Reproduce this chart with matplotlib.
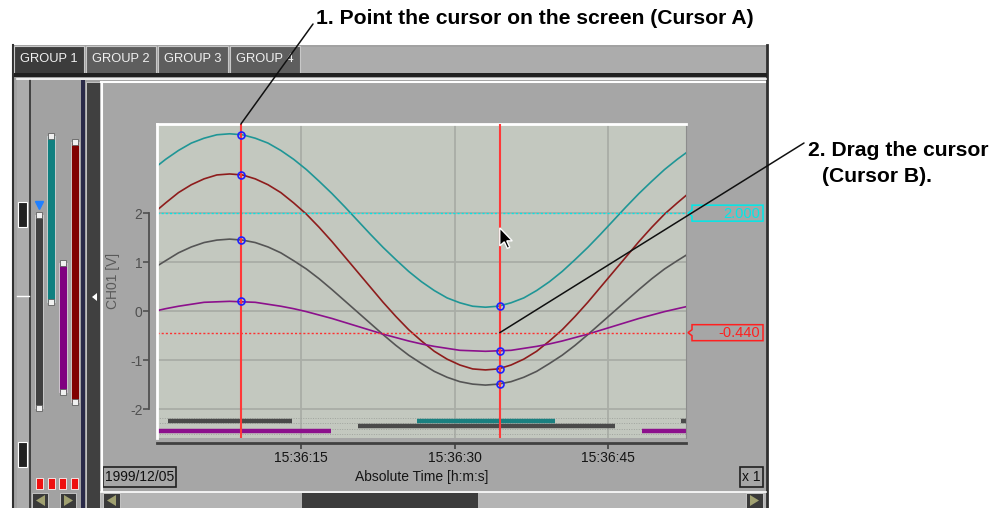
import matplotlib
matplotlib.use('Agg')
import matplotlib.pyplot as plt
from matplotlib.patches import Rectangle, Polygon, ConnectionPatch

plt.rcParams['font.family'] = ['Liberation Sans', 'DejaVu Sans']

# trend samples, seconds after 15:36:00
t = [0.9, 1.75, 3.0, 4.25, 5.5, 6.75, 8.0, 9.25, 10.5, 11.75, 13.0,
     14.25, 15.5, 16.75, 18.0, 19.25, 20.5, 21.75, 23.0, 24.25, 25.5,
     26.75, 28.0, 29.25, 30.5, 31.75, 33.0, 34.25, 35.5, 36.75, 38.0,
     39.25, 40.5, 41.75, 43.0, 44.25, 45.5, 46.75, 48.0, 49.25, 50.5,
     51.75, 52.6]
ch_teal = [2.96, 3.10, 3.28, 3.43, 3.53, 3.60, 3.62, 3.60, 3.53, 3.43, 3.28,
           3.10, 2.89, 2.65, 2.40, 2.13, 1.85, 1.57, 1.30, 1.05, 0.81,
           0.60, 0.42, 0.27, 0.17, 0.10, 0.08, 0.10, 0.17, 0.27, 0.42,
           0.60, 0.81, 1.05, 1.30, 1.57, 1.85, 2.13, 2.40, 2.65, 2.89,
           3.10, 3.23]
ch_red = [2.06, 2.21, 2.42, 2.58, 2.70, 2.78, 2.80, 2.78, 2.70, 2.58, 2.42,
          2.21, 1.98, 1.71, 1.42, 1.11, 0.80, 0.49, 0.18, -0.11, -0.38,
          -0.61, -0.82, -0.98, -1.10, -1.18, -1.20, -1.18, -1.10, -0.98, -0.82,
          -0.61, -0.38, -0.11, 0.18, 0.49, 0.80, 1.11, 1.42, 1.71, 1.98,
          2.21, 2.36]
ch_gray = [0.92, 1.03, 1.19, 1.31, 1.40, 1.45, 1.47, 1.45, 1.40, 1.31, 1.19,
           1.03, 0.86, 0.66, 0.44, 0.21, -0.02, -0.25, -0.48, -0.70, -0.90,
           -1.07, -1.23, -1.35, -1.44, -1.49, -1.51, -1.49, -1.44, -1.35, -1.23,
           -1.07, -0.90, -0.70, -0.48, -0.25, -0.02, 0.21, 0.44, 0.66, 0.86,
           1.03, 1.14]
ch_purple = [0.01, 0.05, 0.10, 0.14, 0.18, 0.19, 0.20, 0.19, 0.18, 0.14, 0.10,
             0.05, -0.01, -0.08, -0.15, -0.23, -0.31, -0.39, -0.47, -0.54, -0.61,
             -0.67, -0.72, -0.76, -0.80, -0.81, -0.82, -0.81, -0.80, -0.76, -0.72,
             -0.67, -0.61, -0.54, -0.47, -0.39, -0.31, -0.23, -0.15, -0.08, -0.01,
             0.05, 0.09]
channel_colors = ['#1f9696', '#8e1c1c', '#555555', '#8c108c']

cursor_a = 9.1
cursor_b = 34.4
cursor_a_vals = [3.60, 2.78, 1.46, 0.20]
cursor_b_vals = [0.11, -1.19, -1.49, -0.81]
cursor_b_level = -0.44
alarm_level = 2.0

# alarm strips under the trend (start, end, level, colour)
strip_start = [2.0, 0.9, 20.5, 26.3, 52.1, 48.3]
strip_end = [14.1, 17.9, 45.7, 39.8, 52.6, 52.6]
strip_level = [-2.24, -2.45, -2.34, -2.24, -2.24, -2.45]
strip_color = ['#4a4a4a', '#8c108c', '#4a4a4a', '#1a8080', '#4a4a4a', '#8c108c']

time_ticks = [15, 30, 45]
time_labels = ['15:36:15', '15:36:30', '15:36:45']
volt_ticks = [-2, -1, 0, 1, 2]

# left bar graph (percent of span)
bar_low = [0.7, 38.6, 6.4, 3.0]
bar_high = [69.6, 97.9, 52.5, 95.7]
bar_colors = ['#404040', '#108080', '#800080', '#800000']

tabs = ['GROUP 1', 'GROUP 2', 'GROUP 3', 'GROUP 4']

fig = plt.figure(figsize=(10, 5.08), dpi=100)
fig.patch.set_facecolor('white')

bg = fig.add_axes([0, 0, 1, 1])
bg.set_xlim(0, 1000)
bg.set_ylim(508, 0)
bg.axis('off')


def box(a, x0, y0, x1, y1, fc, ec='none', lw=1, z=1):
    a.add_patch(Rectangle((x0, y0), x1 - x0, y1 - y0, facecolor=fc,
                          edgecolor=ec, linewidth=lw, zorder=z))


# window frame and tabs
box(bg, 12, 45, 768, 508, '#a2a2a2')
box(bg, 300, 47, 768, 73, '#acacac')
bg.plot([12.5, 12.5], [45, 508], color='#303030', lw=1.5)
for i, name in enumerate(tabs):
    x0 = 14 + i * 72
    fc = '#3c3c3c' if i == 0 else '#5e5e5e'
    box(bg, x0, 46, x0 + 70, 74, fc, ec='#c8c8c8', lw=0.8, z=2)
    bg.text(x0 + 35, 59, name, ha='center', va='center', color='#f0f0f0',
            fontsize=9.3, zorder=3)
box(bg, 14, 73, 767, 77, '#202020', z=3)
bg.plot([17, 766], [78.5, 78.5], color='white', lw=1.2, zorder=3)

# left panel
box(bg, 17, 80, 29, 508, '#acacac')
bg.plot([30, 30], [80, 508], color='#303030', lw=1.2)
box(bg, 81, 80, 85, 508, '#2a2a48')
box(bg, 86, 82, 100, 508, '#404040', ec='#d0d0d0', lw=0.6)
bg.add_patch(Polygon([[97, 293], [97, 301], [92, 297]], closed=True,
                     facecolor='white', edgecolor='none'))
box(bg, 18, 202, 27, 227, '#202020', ec='white', lw=0.8)
box(bg, 18, 442, 27, 467, '#202020', ec='white', lw=0.8)
bg.plot([17, 29], [296, 296], color='white', lw=1)
for k in range(4):
    box(bg, 36 + k * 11.5, 478, 43 + k * 11.5, 489, '#ee1010', ec='#f8f8f8', lw=0.6)
for x0 in (32, 60):
    box(bg, x0, 493, x0 + 16, 508, '#3a3a3a', ec='#d0d0d0', lw=0.6)
bg.add_patch(Polygon([[45, 495], [45, 506], [36, 500.5]], closed=True,
                     facecolor='#a0a070', edgecolor='none', zorder=3))
bg.add_patch(Polygon([[64, 495], [64, 506], [73, 500.5]], closed=True,
                     facecolor='#a0a070', edgecolor='none', zorder=3))

bars = fig.add_axes([33 / 1000, (508 - 410) / 508, 48 / 1000, 280 / 508])
bars.set_xlim(0, 4)
bars.set_ylim(0, 100)
bars.axis('off')
for k in range(4):
    bars.bar(k + 0.5, bar_high[k] - bar_low[k], bottom=bar_low[k], width=0.7,
             color=bar_colors[k], edgecolor='#d8d8d8', linewidth=0.6)
    bars.plot([k + 0.5] * 2, [bar_low[k], bar_high[k]], ls='none', marker='s',
              ms=5, mfc='#f0f0f0', mec='#606060', mew=0.6, clip_on=False)
bars.plot([0.5], [bar_high[0] + 3.5], marker='v', ms=6, color='#2080ff',
          ls='none', clip_on=False)

# chart panel
box(bg, 101, 82, 766, 491, '#a6a6a6')
bg.plot([101, 766], [82, 82], color='white', lw=1.5)
bg.plot([101.5, 101.5], [82, 491], color='white', lw=1.5)
bg.plot([766.5, 766.5], [45, 508], color='#303030', lw=2)
box(bg, 103, 467, 176, 487, 'none', ec='#202020', lw=1.2)
bg.text(139.5, 477, '1999/12/05', ha='center', va='center', fontsize=10, color='#101010')
box(bg, 740, 467, 763, 487, 'none', ec='#202020', lw=1.2)
bg.text(751.5, 477, 'x 1', ha='center', va='center', fontsize=10, color='#101010')

# scroll bar
box(bg, 101, 492, 766, 508, '#b4b4b4')
bg.plot([101, 766], [492, 492], color='white', lw=1.2)
box(bg, 302, 493, 478, 508, '#3c3c3c')
for x0, pts in ((103, [[116, 495], [116, 506], [107, 500.5]]),
                (746, [[750, 495], [750, 506], [759, 500.5]])):
    box(bg, x0, 493, x0 + 17, 508, '#3a3a3a', ec='#d0d0d0', lw=0.6)
    bg.add_patch(Polygon(pts, closed=True, facecolor='#a0a070',
                         edgecolor='none', zorder=3))

# trend axes
ax = fig.add_axes([157 / 1000, (508 - 438) / 508, 529 / 1000, 314 / 508])
ax.set_facecolor('#c3c8bf')
ax.set_xlim(0.9, 52.6)
ax.set_ylim(-2.59, 3.82)

for v in volt_ticks:
    ax.axhline(v, color='#a9ada6', lw=1.3, zorder=1)
for x in time_ticks:
    ax.axvline(x, color='#a9ada6', lw=1.3, zorder=1)
for v in (-2.18, -2.29, -2.40, -2.51):
    ax.axhline(v, color='#a0a49e', lw=0.7, ls=(0, (1, 1.5)), zorder=1)

for lo, hi, lv, c in zip(strip_start, strip_end, strip_level, strip_color):
    ax.hlines(lv, lo, hi, color=c, lw=3.2, zorder=2)

series = [ch_teal, ch_red, ch_gray, ch_purple]
for ys, c in zip(series, channel_colors):
    ax.plot(t, ys, color=c, lw=1.2, zorder=3)

ax.axhline(alarm_level, color='#00e8e8', lw=1, ls=(0, (1.5, 1.5)), zorder=4)
ax.axhline(cursor_b_level, color='#ff3030', lw=1, ls=(0, (1.5, 1.5)), zorder=4)
ax.axvline(cursor_a, color='#ff3838', lw=1.5, zorder=5)
ax.axvline(cursor_b, color='#ff3838', lw=1.5, zorder=5)
ax.plot([cursor_a] * 4, cursor_a_vals, ls='none', marker='o', ms=5,
        mfc='none', mec='#2020ff', mew=1.2, zorder=6)
ax.plot([cursor_b] * 4, cursor_b_vals, ls='none', marker='o', ms=5,
        mfc='none', mec='#2020ff', mew=1.2, zorder=6)

ax.spines['top'].set_color('white')
ax.spines['top'].set_linewidth(2)
ax.spines['right'].set_color('#8c8c8c')
ax.plot([0, 0], [0, 1], transform=ax.transAxes, color='white', lw=2, clip_on=False, zorder=7)
ax.spines['left'].set_position(('outward', 5.5))
ax.spines['left'].set_bounds(-2, 2)
ax.spines['left'].set_color('#505050')
ax.spines['left'].set_linewidth(1.3)
ax.spines['bottom'].set_position(('outward', 3.6))
ax.spines['bottom'].set_color('#404040')
ax.spines['bottom'].set_linewidth(2)
ax.set_yticks(volt_ticks)
ax.set_yticklabels([str(v) for v in volt_ticks])
ax.set_xticks(time_ticks)
ax.set_xticklabels(time_labels)
ax.tick_params(axis='y', length=4, width=1.2, color='#505050', labelcolor='#505050',
               labelsize=10, pad=1)
ax.tick_params(axis='x', length=4, width=1.2, color='#404040', labelcolor='#151515',
               labelsize=10, pad=2)
ax.set_ylabel('CH01 [V]', fontsize=10, color='#5a5a5a', labelpad=7)
ax.set_xlabel('Absolute Time [h:m:s]', fontsize=10, color='#151515', labelpad=3)

# overlay: value boxes, pointer, call-outs
top = fig.add_axes([0, 0, 1, 1], zorder=10)
top.set_xlim(0, 1000)
top.set_ylim(508, 0)
top.axis('off')


def to_px(x, y):
    return top.transData.inverted().transform(ax.transData.transform((x, y)))


for lv, txt, c in ((alarm_level, '2.000', '#00e8e8'),
                   (cursor_b_level, '-0.440', '#ff2020')):
    yy = to_px(0, lv)[1]
    top.add_patch(Polygon([[692, yy - 8], [763, yy - 8], [763, yy + 8], [692, yy + 8],
                           [692, yy + 3], [688, yy], [692, yy - 3]], closed=True,
                          facecolor='#a6a6a6', edgecolor=c, lw=1.1))
    top.text(760, yy + 0.5, txt, ha='right', va='center', color=c, fontsize=10.5)

px, py = to_px(cursor_b, 1.7)
arrow = [[0, 0], [0, 18], [4.5, 14], [7.5, 20.5], [10, 19.5], [7, 13], [12.5, 13]]
top.add_patch(Polygon([[px + dx, py + dy] for dx, dy in arrow], closed=True,
                      facecolor='black', edgecolor='white', lw=1))

top.text(316, 19, '1. Point the cursor on the screen (Cursor A)', ha='left',
         va='center', fontsize=15.2, fontweight='bold', color='black')
top.text(808, 151, '2. Drag the cursor', ha='left', va='center',
         fontsize=15.2, fontweight='bold', color='black')
top.text(822, 177, '(Cursor B).', ha='left', va='center',
         fontsize=15.2, fontweight='bold', color='black')

for xy_txt, xy_pt in (((313, 24), (cursor_a, 3.82)),
                      ((804, 143), (cursor_b, cursor_b_level))):
    fig.add_artist(ConnectionPatch(xyA=xy_txt, coordsA=top.transData,
                                   xyB=xy_pt, coordsB=ax.transData,
                                   color='#101010', lw=1.1, zorder=20))

fig.savefig('out.png', dpi=100, facecolor='white')
